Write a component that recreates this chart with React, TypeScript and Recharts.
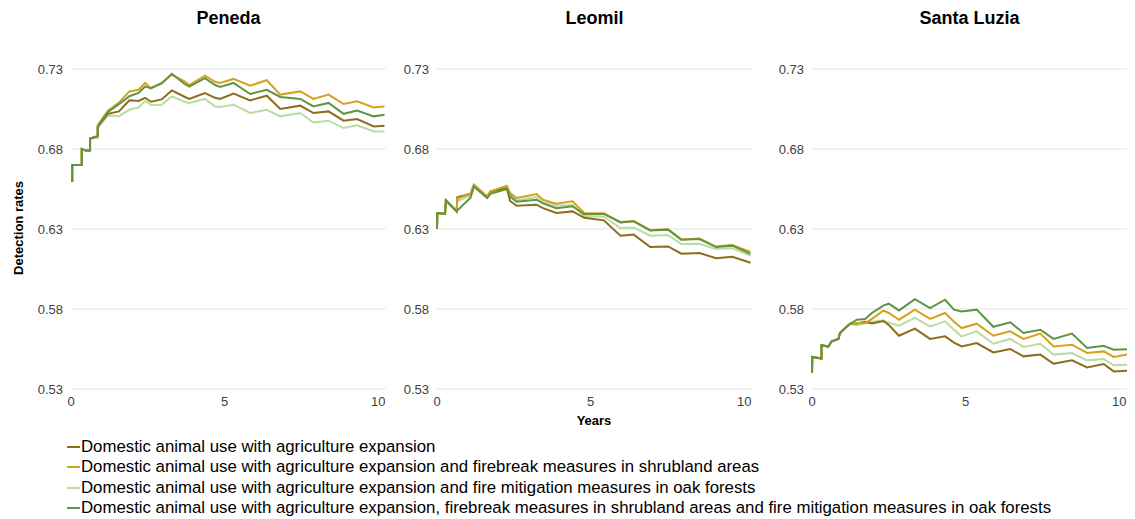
import { LineChart, Line, XAxis, YAxis, CartesianGrid } from 'recharts';

const seriesNames = [
  "Domestic animal use with agriculture expansion",
  "Domestic animal use with agriculture expansion and firebreak measures in shrubland areas",
  "Domestic animal use with agriculture expansion and fire mitigation measures in oak forests",
  "Domestic animal use with agriculture expansion, firebreak measures in shrubland areas and fire mitigation measures in oak forests",
];
const seriesColors = ["#8c6d1a", "#d4a21c", "#b9dca3", "#5e9444"];
const yTicks = [0.53, 0.58, 0.63, 0.68, 0.73];
const xTicks = [0, 5, 10];

// Peneda
const penedaT = [0, 0.04, 0.04, 0.35, 0.35, 0.48, 0.62, 0.62, 0.87, 0.87, 1.2, 1.56, 1.9, 2.2, 2.41, 2.6, 2.95, 3.28, 3.71, 3.85, 4.36, 4.69, 4.85, 5.29, 5.83, 6.37, 6.81, 7.46, 7.89, 8.38, 8.87, 9.31, 9.85, 10.2];
const penedaA = [0.66, 0.66, 0.67, 0.67, 0.68, 0.679, 0.679, 0.6865, 0.688, 0.694, 0.702, 0.7035, 0.7105, 0.71, 0.712, 0.7095, 0.711, 0.7166, 0.7125, 0.7113, 0.715, 0.712, 0.7113, 0.7146, 0.7104, 0.7133, 0.705, 0.7071, 0.7025, 0.7035, 0.6977, 0.6987, 0.6941, 0.6946];
const penedaB = [0.66, 0.66, 0.67, 0.67, 0.68, 0.679, 0.679, 0.6865, 0.688, 0.695, 0.704, 0.709, 0.716, 0.717, 0.7213, 0.718, 0.7213, 0.7264, 0.7222, 0.72, 0.7258, 0.722, 0.7213, 0.7238, 0.7196, 0.723, 0.714, 0.716, 0.7113, 0.714, 0.7081, 0.7098, 0.706, 0.7066];
const penedaC = [0.66, 0.66, 0.67, 0.67, 0.68, 0.679, 0.679, 0.6865, 0.687, 0.693, 0.701, 0.7005, 0.7045, 0.706, 0.71, 0.7075, 0.7077, 0.7129, 0.7095, 0.7088, 0.7113, 0.7066, 0.7063, 0.7077, 0.7025, 0.7045, 0.7004, 0.7025, 0.6966, 0.6977, 0.6931, 0.6948, 0.691, 0.691];
const penedaD = [0.66, 0.66, 0.67, 0.67, 0.68, 0.679, 0.679, 0.6865, 0.688, 0.694, 0.703, 0.708, 0.713, 0.715, 0.719, 0.718, 0.721, 0.727, 0.7205, 0.719, 0.7243, 0.72, 0.7188, 0.7213, 0.7144, 0.717, 0.7125, 0.7113, 0.7066, 0.7088, 0.702, 0.704, 0.7004, 0.7014];

// Leomil
const leomilT = [0, 0.01, 0.26, 0.29, 0.64, 0.66, 1.09, 1.2, 1.63, 1.74, 2.27, 2.38, 2.59, 3.24, 3.45, 3.88, 4.41, 4.79, 5.43, 5.97, 6.4, 6.94, 7.52, 7.95, 8.54, 9.08, 9.61, 10.2];
const leomilA = [0.63, 0.64, 0.6395, 0.648, 0.641, 0.6498, 0.652, 0.6575, 0.65, 0.6535, 0.6555, 0.6475, 0.6445, 0.6452, 0.643, 0.64, 0.641, 0.637, 0.6354, 0.6258, 0.6265, 0.6187, 0.6191, 0.6146, 0.615, 0.6117, 0.6127, 0.6089];
const leomilB = [0.63, 0.64, 0.6395, 0.648, 0.641, 0.649, 0.652, 0.6577, 0.6504, 0.6535, 0.657, 0.6525, 0.6494, 0.6518, 0.6483, 0.6458, 0.6473, 0.64, 0.6398, 0.6343, 0.635, 0.6293, 0.6298, 0.6235, 0.624, 0.619, 0.62, 0.6157];
const leomilC = [0.63, 0.64, 0.6395, 0.648, 0.641, 0.6475, 0.651, 0.657, 0.65, 0.653, 0.656, 0.652, 0.648, 0.65, 0.647, 0.6445, 0.645, 0.638, 0.6377, 0.6306, 0.6308, 0.6258, 0.6262, 0.6206, 0.6208, 0.6175, 0.618, 0.6133];
const leomilD = [0.63, 0.64, 0.6395, 0.648, 0.641, 0.6415, 0.6495, 0.6565, 0.6494, 0.652, 0.655, 0.6504, 0.647, 0.6483, 0.646, 0.643, 0.6442, 0.6392, 0.6394, 0.6341, 0.6348, 0.6291, 0.6296, 0.6233, 0.6237, 0.6187, 0.6196, 0.6145];

// Santa Luzia
const luziaT = [0, 0.01, 0.31, 0.31, 0.53, 0.64, 0.86, 0.91, 1.08, 1.24, 1.46, 1.73, 1.95, 2.32, 2.5, 2.83, 3.35, 3.84, 4.33, 4.62, 4.87, 5.36, 5.9, 6.45, 6.88, 7.43, 7.86, 8.46, 8.95, 9.49, 9.82, 10.25];
const luziaA = [0.54, 0.55, 0.549, 0.5573, 0.5565, 0.5598, 0.5613, 0.565, 0.5681, 0.5708, 0.571, 0.572, 0.571, 0.5725, 0.57, 0.5633, 0.5677, 0.5613, 0.5629, 0.559, 0.5566, 0.5587, 0.5529, 0.555, 0.5504, 0.5515, 0.5458, 0.5479, 0.5435, 0.5456, 0.541, 0.5414];
const luziaB = [0.54, 0.55, 0.549, 0.5573, 0.5565, 0.5598, 0.5613, 0.565, 0.5681, 0.5708, 0.5713, 0.5713, 0.5738, 0.579, 0.5775, 0.5733, 0.5796, 0.5738, 0.5775, 0.572, 0.5681, 0.5708, 0.5633, 0.566, 0.5613, 0.5646, 0.5566, 0.5577, 0.5525, 0.5535, 0.55, 0.5515];
const luziaC = [0.54, 0.55, 0.549, 0.5573, 0.5565, 0.5598, 0.5613, 0.565, 0.5681, 0.5708, 0.57, 0.571, 0.572, 0.5729, 0.5715, 0.5696, 0.5744, 0.5691, 0.5723, 0.567, 0.5629, 0.566, 0.5583, 0.5613, 0.5563, 0.5583, 0.5515, 0.5525, 0.5479, 0.5488, 0.5448, 0.5452];
const luziaD = [0.54, 0.55, 0.549, 0.5573, 0.5565, 0.5598, 0.5613, 0.565, 0.5681, 0.5708, 0.5733, 0.5738, 0.5775, 0.5821, 0.5833, 0.5791, 0.5862, 0.5806, 0.5858, 0.5796, 0.5785, 0.5796, 0.5689, 0.5717, 0.565, 0.567, 0.5613, 0.5646, 0.5556, 0.557, 0.5546, 0.5548];

const toRows = (t: number[], a: number[], b: number[], c: number[], d: number[]) =>
  t.map((x, i) => ({ t: x, a: a[i], b: b[i], c: c[i], d: d[i] }));

const panels = [
  { title: "Peneda", left: 27, rows: toRows(penedaT, penedaA, penedaB, penedaC, penedaD) },
  { title: "Leomil", left: 393, rows: toRows(leomilT, leomilA, leomilB, leomilC, leomilD) },
  { title: "Santa Luzia", left: 768, rows: toRows(luziaT, luziaA, luziaB, luziaC, luziaD) },
];

const font = "'Liberation Sans', Arial, sans-serif";
const drawOrder = ["c", "a", "b", "d"];
const keyIndex: Record<string, number> = { a: 0, b: 1, c: 2, d: 3 };

const Panel = ({ title, left, rows }: any) => (
  <div style={{ position: "absolute", left, top: 0 }}>
    <div style={{ position: "absolute", left: 44, width: 315, top: 8, textAlign: "center", fontWeight: "bold", fontSize: 18, color: "#000" }}>
      {title}
    </div>
    <LineChart width={364} height={430} data={rows} margin={{ top: 69, right: 5, bottom: 11, left: 0 }}>
      <CartesianGrid vertical={false} stroke="#e3e3e3" />
      <XAxis dataKey="t" type="number" domain={[0, 10.25]} ticks={xTicks} tickLine={false} axisLine={false}
        tick={{ fontSize: 13, fill: "#404040", fontFamily: font }} height={30} />
      <YAxis type="number" domain={[0.53, 0.73]} ticks={yTicks} tickLine={false} axisLine={false} width={44}
        tickFormatter={(v: number) => v.toFixed(2)} tick={{ fontSize: 13, fill: "#404040", fontFamily: font }} />
      {drawOrder.map((k) => (
        <Line key={k} type="linear" dataKey={k} stroke={seriesColors[keyIndex[k]]} strokeWidth={2}
          dot={false} isAnimationActive={false} />
      ))}
    </LineChart>
  </div>
);

export default function App() {
  return (
    <div style={{ position: "absolute", left: 0, top: 0, width: 1135, height: 519, background: "#fff", fontFamily: font, overflow: "hidden" }}>
      {panels.map((p) => <Panel key={p.title} {...p} />)}
      <div style={{ position: "absolute", left: 18, top: 228, transform: "translate(-50%, -50%) rotate(-90deg)", fontWeight: "bold", fontSize: 13, whiteSpace: "nowrap" }}>
        Detection rates
      </div>
      <div style={{ position: "absolute", left: 594, top: 420, transform: "translate(-50%, -50%)", fontWeight: "bold", fontSize: 13 }}>
        Years
      </div>
      <div style={{ position: "absolute", left: 67, top: 437 }}>
        {seriesNames.map((name, i) => (
          <div key={name} style={{ display: "flex", alignItems: "center", height: 20.3, fontSize: 16.8, color: "#000", whiteSpace: "nowrap" }}>
            <span style={{ display: "inline-block", width: 13, height: 2, background: seriesColors[i], marginRight: 1 }} />
            {name}
          </div>
        ))}
      </div>
    </div>
  );
}
